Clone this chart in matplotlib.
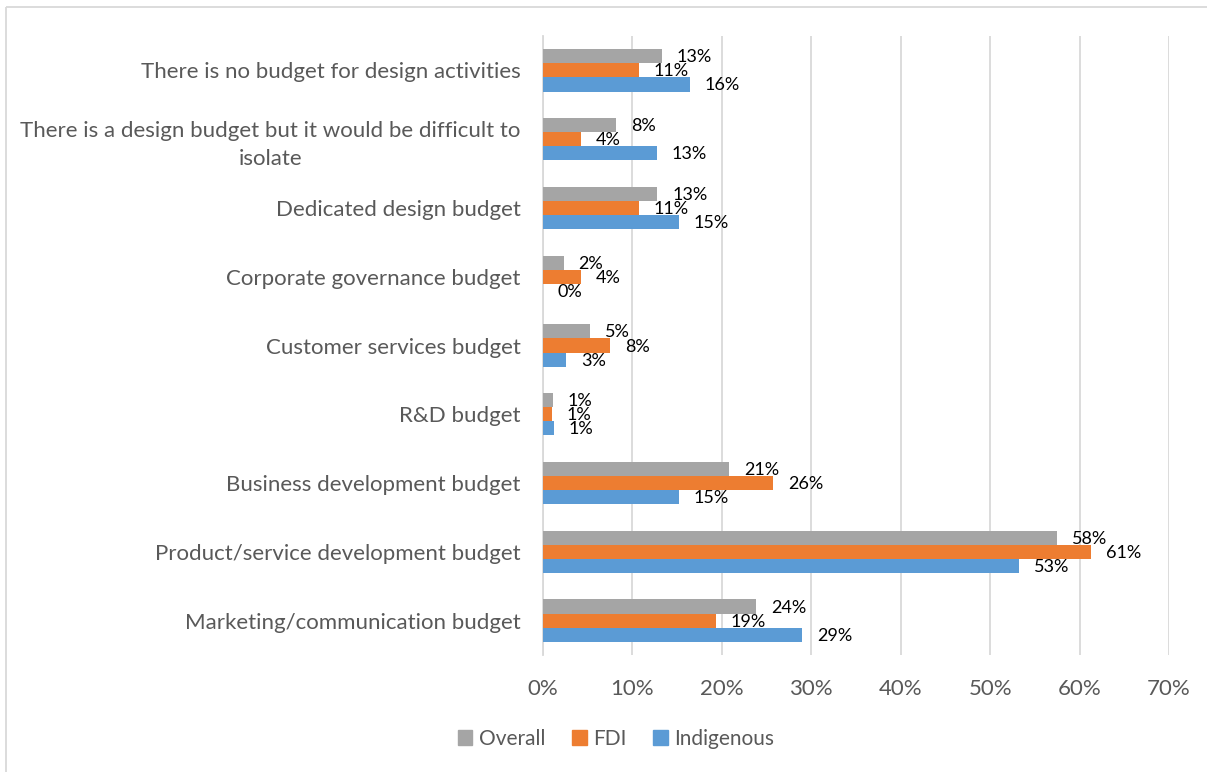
import matplotlib
matplotlib.use("Agg")
import matplotlib.pyplot as plt
from matplotlib.lines import Line2D
import numpy as np

categories = [
    "There is no budget for design activities",
    "There is a design budget but it would be difficult to\nisolate",
    "Dedicated design budget",
    "Corporate governance budget",
    "Customer services budget",
    "R&D budget",
    "Business development budget",
    "Product/service development budget",
    "Marketing/communication budget",
]
overall = [13.3, 8.2, 12.8, 2.3, 5.3, 1.1, 20.8, 57.5, 23.8]
fdi = [10.7, 4.2, 10.7, 4.2, 7.5, 1.0, 25.7, 61.3, 19.3]
indigenous = [16.4, 12.7, 15.2, 0.0, 2.6, 1.2, 15.2, 53.2, 29.0]
series_names = ["Overall", "FDI", "Indigenous"]
colors = ["#A5A5A5", "#ED7D31", "#5B9BD5"]
xticks = [0, 10, 20, 30, 40, 50, 60, 70]

plt.rcParams["font.family"] = ["Lato", "DejaVu Sans"]

W, H = 1207, 772
fig = plt.figure(figsize=(W / 100, H / 100), dpi=100)
ax = fig.add_axes([543 / W, 1 - 655 / H, (1169 - 543) / W, (655 - 36) / H])

n = len(categories)
y = np.arange(n)
bh = 0.205
series = [overall, fdi, indigenous]
offsets = [-bh, 0, bh]
for vals, off, col, name in zip(series, offsets, colors, series_names):
    bars = ax.barh(y + off, vals, height=bh, color=col, label=name, zorder=3)
    for b, v in zip(bars, vals):
        ax.annotate(f"{v:.0f}%", (v, b.get_y() + b.get_height() / 2),
                    xytext=(15, -1), textcoords="offset pixels",
                    ha="left", va="center", fontsize=13, color="#000000", zorder=4)

ax.set_ylim(n - 0.5, -0.5)
ax.set_xlim(0, 70)
ax.set_xticks(xticks)
ax.set_xticklabels([f"{t}%" for t in xticks], fontsize=16, color="#595959")
ax.set_yticks(y)
ax.set_yticklabels(categories, fontsize=16, color="#595959",
                   multialignment="center", linespacing=1.5)
ax.tick_params(axis="both", length=0)
ax.tick_params(axis="x", pad=17)
ax.tick_params(axis="y", pad=16)
ax.grid(axis="x", color="#D9D9D9", linewidth=1.3, zorder=0)
for s in ["top", "right", "bottom"]:
    ax.spines[s].set_visible(False)
ax.spines["left"].set_color("#D9D9D9")
ax.spines["left"].set_linewidth(1.3)

handles = [plt.Rectangle((0, 0), 1, 1, color=c) for c in colors]
fig.legend(handles, series_names, loc="center", bbox_to_anchor=(616 / W, 1 - 739 / H),
           ncol=3, frameon=False, fontsize=15, labelcolor="#595959",
           handlelength=0.7, handleheight=0.7, handletextpad=0.3, columnspacing=1.3)

# outer chart frame
fig.add_artist(Line2D([6 / W, 6 / W], [0, 1 - 7 / H], transform=fig.transFigure,
                      color="#D9D9D9", linewidth=1.3, solid_capstyle="butt"))
fig.add_artist(Line2D([6 / W, 1], [1 - 7 / H, 1 - 7 / H], transform=fig.transFigure,
                      color="#D9D9D9", linewidth=1.3, solid_capstyle="butt"))

fig.savefig("out.png", dpi=100, facecolor="white")
